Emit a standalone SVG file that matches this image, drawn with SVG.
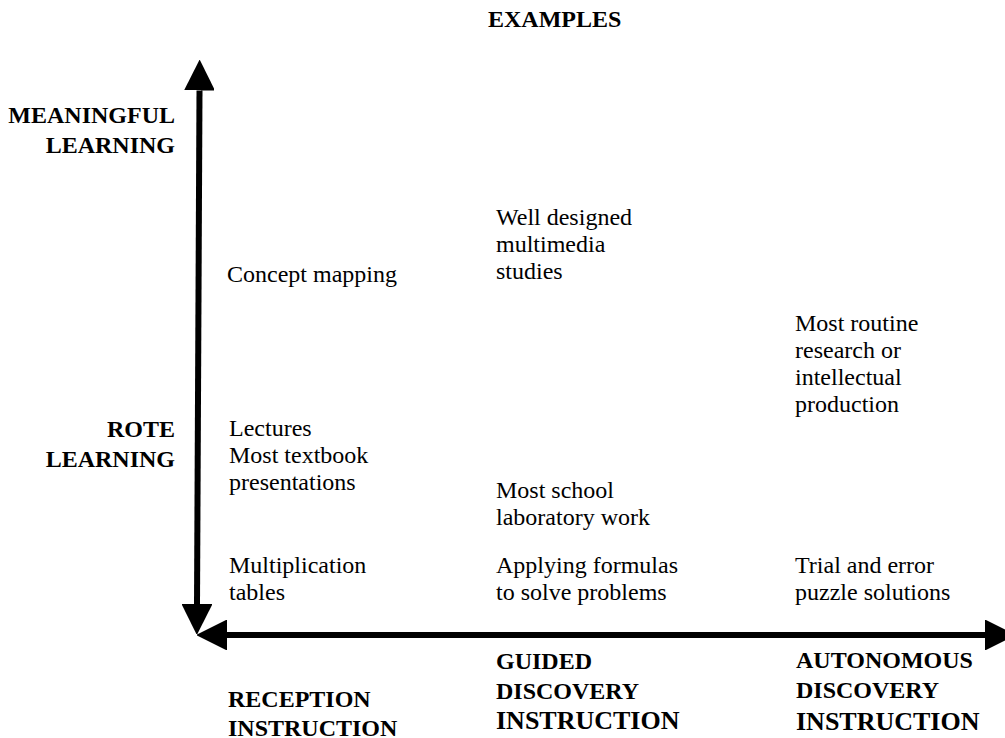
<svg xmlns="http://www.w3.org/2000/svg" width="1005" height="738" viewBox="0 0 1005 738">
  <style>
    text { font-family: "Liberation Serif", "Times New Roman", serif; fill: #000; }
    .ex { font-size: 24px; }
    .hd { font-size: 24px; font-weight: bold; }
    .big { font-size: 26px; font-weight: bold; }
    .axis { stroke: #000; stroke-width: 6; fill: none; marker-start: url(#head); marker-end: url(#head); }
  </style>
  <defs>
    <marker id="head" viewBox="0 -15 30 30" refX="0" refY="0" markerWidth="30" markerHeight="30" markerUnits="userSpaceOnUse" orient="auto-start-reverse">
      <path d="M0,-15.5 L31,0 L0,15.5 z" fill="#000"/>
    </marker>
  </defs>
  <rect width="1005" height="738" fill="#fff"/>

  <!-- axes -->
  <g id="connectors">
    <line class="axis" x1="199.5" y1="90.5" x2="197" y2="604"/>
    <line class="axis" x1="227" y1="635" x2="985" y2="635"/>
  </g>

  <!-- title -->
  <g id="title">
    <text class="hd" x="488" y="27">EXAMPLES</text>
  </g>

  <!-- vertical axis labels -->
  <g id="meaningful" text-anchor="end">
    <text class="hd" x="175" y="123">MEANINGFUL</text>
    <text class="hd" x="175" y="153">LEARNING</text>
  </g>
  <g id="rote" text-anchor="end">
    <text class="hd" x="175" y="437">ROTE</text>
    <text class="hd" x="175" y="467">LEARNING</text>
  </g>

  <!-- horizontal axis labels -->
  <g id="reception">
    <text class="hd" x="228" y="707">RECEPTION</text>
    <text class="hd" x="228" y="736">INSTRUCTION</text>
  </g>
  <g id="guided">
    <text class="hd" x="496" y="669">GUIDED</text>
    <text class="hd" x="496" y="699">DISCOVERY</text>
    <text class="big" x="496" y="729">INSTRUCTION</text>
  </g>
  <g id="autonomous">
    <text class="hd" x="796" y="668">AUTONOMOUS</text>
    <text class="hd" x="796" y="698">DISCOVERY</text>
    <text class="big" x="796" y="730">INSTRUCTION</text>
  </g>

  <!-- examples, reception column -->
  <g id="concept-mapping">
    <text class="ex" x="227" y="282">Concept mapping</text>
  </g>
  <g id="lectures">
    <text class="ex" x="229" y="436">Lectures</text>
    <text class="ex" x="229" y="463">Most textbook</text>
    <text class="ex" x="229" y="490">presentations</text>
  </g>
  <g id="multiplication">
    <text class="ex" x="229" y="573">Multiplication</text>
    <text class="ex" x="229" y="600">tables</text>
  </g>

  <!-- examples, guided column -->
  <g id="multimedia">
    <text class="ex" x="496" y="225">Well designed</text>
    <text class="ex" x="496" y="252">multimedia</text>
    <text class="ex" x="496" y="279">studies</text>
  </g>
  <g id="school-lab">
    <text class="ex" x="496" y="498">Most school</text>
    <text class="ex" x="496" y="525">laboratory work</text>
  </g>
  <g id="formulas">
    <text class="ex" x="496" y="573">Applying formulas</text>
    <text class="ex" x="496" y="600">to solve problems</text>
  </g>

  <!-- examples, autonomous column -->
  <g id="research">
    <text class="ex" x="795" y="331">Most routine</text>
    <text class="ex" x="795" y="358">research or</text>
    <text class="ex" x="795" y="385">intellectual</text>
    <text class="ex" x="795" y="412">production</text>
  </g>
  <g id="trial-error">
    <text class="ex" x="795" y="573">Trial and error</text>
    <text class="ex" x="795" y="600">puzzle solutions</text>
  </g>
</svg>
